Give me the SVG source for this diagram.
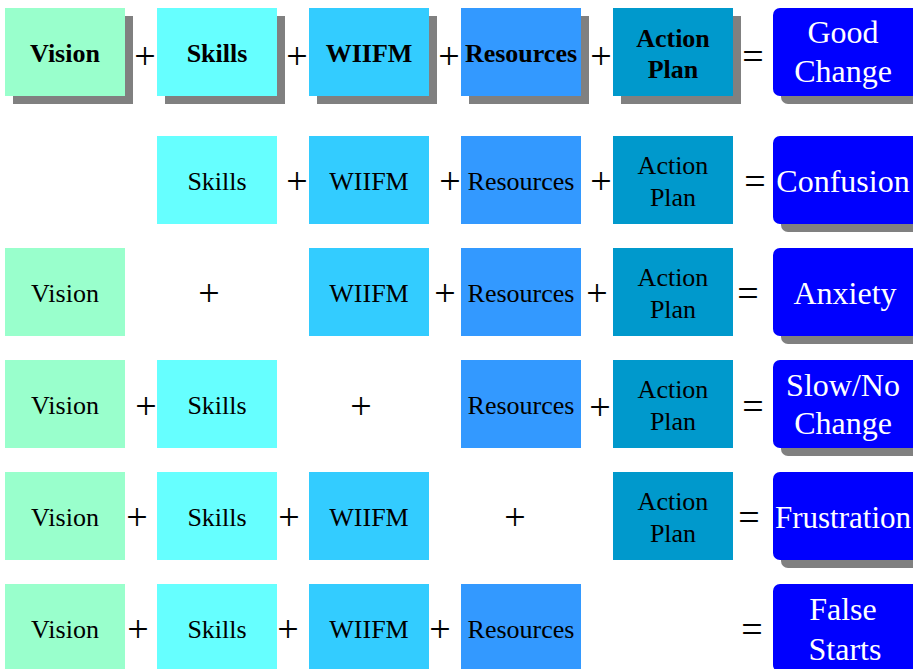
<svg xmlns="http://www.w3.org/2000/svg" width="913" height="669" viewBox="0 0 913 669">
  <style>
    .vision { fill: #99FFCC; }
    .skills { fill: #66FFFF; }
    .wiifm { fill: #33CCFF; }
    .res { fill: #3399FF; }
    .plan { fill: #0099CC; }
    .result { fill: #0000FF; }
    .shadow { fill: #808080; }
    text { font-family: "Liberation Serif", "Times New Roman", serif; text-anchor: middle; }
    .lbl { font-size: 26px; fill: #000000; }
    .bold { font-weight: bold; }
    .out { font-size: 32px; fill: #FFFFFF; }
    .op { font-size: 38px; fill: #000000; }
  </style>

  <rect x="0" y="0" width="913" height="669" fill="#FFFFFF"/>

  <!-- Row 1: all five ingredients -->
  <g id="row1">
    <g id="r1-vision">
      <rect class="shadow" x="13" y="16" width="120" height="88"/>
      <rect class="vision" x="5" y="8" width="120" height="88"/>
      <text class="lbl bold" x="65" y="62">Vision</text>
    </g>
    <g id="r1-skills">
      <rect class="shadow" x="165" y="16" width="120" height="88"/>
      <rect class="skills" x="157" y="8" width="120" height="88"/>
      <text class="lbl bold" x="217" y="62">Skills</text>
    </g>
    <g id="r1-wiifm">
      <rect class="shadow" x="317" y="16" width="120" height="88"/>
      <rect class="wiifm" x="309" y="8" width="120" height="88"/>
      <text class="lbl bold" x="369" y="62">WIIFM</text>
    </g>
    <g id="r1-resources">
      <rect class="shadow" x="469" y="16" width="120" height="88"/>
      <rect class="res" x="461" y="8" width="120" height="88"/>
      <text class="lbl bold" x="521" y="62">Resources</text>
    </g>
    <g id="r1-plan">
      <rect class="shadow" x="621" y="16" width="120" height="88"/>
      <rect class="plan" x="613" y="8" width="120" height="88"/>
      <text class="lbl bold" x="673" y="47">Action</text>
      <text class="lbl bold" x="673" y="78">Plan</text>
    </g>
    <g id="r1-result">
      <rect class="shadow" x="781" y="16" width="150" height="88" rx="7"/>
      <rect class="result" x="773" y="8" width="150" height="88" rx="7"/>
      <text class="out" x="843" y="43">Good</text>
      <text class="out" x="843" y="82">Change</text>
    </g>
  </g>

  <!-- Row 2: no vision -->
  <g id="row2">
    <g id="r2-skills">
      <rect class="skills" x="157" y="136" width="120" height="88"/>
      <text class="lbl" x="217" y="190">Skills</text>
    </g>
    <g id="r2-wiifm">
      <rect class="wiifm" x="309" y="136" width="120" height="88"/>
      <text class="lbl" x="369" y="190">WIIFM</text>
    </g>
    <g id="r2-resources">
      <rect class="res" x="461" y="136" width="120" height="88"/>
      <text class="lbl" x="521" y="190">Resources</text>
    </g>
    <g id="r2-plan">
      <rect class="plan" x="613" y="136" width="120" height="88"/>
      <text class="lbl" x="673" y="174">Action</text>
      <text class="lbl" x="673" y="206">Plan</text>
    </g>
    <g id="r2-result">
      <rect class="shadow" x="781" y="144" width="150" height="88" rx="7"/>
      <rect class="result" x="773" y="136" width="150" height="88" rx="7"/>
      <text class="out" x="843" y="192">Confusion</text>
    </g>
  </g>

  <!-- Row 3: no skills -->
  <g id="row3">
    <g id="r3-vision">
      <rect class="vision" x="5" y="248" width="120" height="88"/>
      <text class="lbl" x="65" y="302">Vision</text>
    </g>
    <g id="r3-wiifm">
      <rect class="wiifm" x="309" y="248" width="120" height="88"/>
      <text class="lbl" x="369" y="302">WIIFM</text>
    </g>
    <g id="r3-resources">
      <rect class="res" x="461" y="248" width="120" height="88"/>
      <text class="lbl" x="521" y="302">Resources</text>
    </g>
    <g id="r3-plan">
      <rect class="plan" x="613" y="248" width="120" height="88"/>
      <text class="lbl" x="673" y="286">Action</text>
      <text class="lbl" x="673" y="318">Plan</text>
    </g>
    <g id="r3-result">
      <rect class="shadow" x="781" y="256" width="150" height="88" rx="7"/>
      <rect class="result" x="773" y="248" width="150" height="88" rx="7"/>
      <text class="out" x="845" y="304">Anxiety</text>
    </g>
  </g>

  <!-- Row 4: no WIIFM -->
  <g id="row4">
    <g id="r4-vision">
      <rect class="vision" x="5" y="360" width="120" height="88"/>
      <text class="lbl" x="65" y="414">Vision</text>
    </g>
    <g id="r4-skills">
      <rect class="skills" x="157" y="360" width="120" height="88"/>
      <text class="lbl" x="217" y="414">Skills</text>
    </g>
    <g id="r4-resources">
      <rect class="res" x="461" y="360" width="120" height="88"/>
      <text class="lbl" x="521" y="414">Resources</text>
    </g>
    <g id="r4-plan">
      <rect class="plan" x="613" y="360" width="120" height="88"/>
      <text class="lbl" x="673" y="398">Action</text>
      <text class="lbl" x="673" y="430">Plan</text>
    </g>
    <g id="r4-result">
      <rect class="shadow" x="781" y="368" width="150" height="88" rx="7"/>
      <rect class="result" x="773" y="360" width="150" height="88" rx="7"/>
      <text class="out" x="843" y="396">Slow/No</text>
      <text class="out" x="843" y="434">Change</text>
    </g>
  </g>

  <!-- Row 5: no resources -->
  <g id="row5">
    <g id="r5-vision">
      <rect class="vision" x="5" y="472" width="120" height="88"/>
      <text class="lbl" x="65" y="526">Vision</text>
    </g>
    <g id="r5-skills">
      <rect class="skills" x="157" y="472" width="120" height="88"/>
      <text class="lbl" x="217" y="526">Skills</text>
    </g>
    <g id="r5-wiifm">
      <rect class="wiifm" x="309" y="472" width="120" height="88"/>
      <text class="lbl" x="369" y="526">WIIFM</text>
    </g>
    <g id="r5-plan">
      <rect class="plan" x="613" y="472" width="120" height="88"/>
      <text class="lbl" x="673" y="510">Action</text>
      <text class="lbl" x="673" y="542">Plan</text>
    </g>
    <g id="r5-result">
      <rect class="shadow" x="781" y="480" width="150" height="88" rx="7"/>
      <rect class="result" x="773" y="472" width="150" height="88" rx="7"/>
      <text class="out" x="843" y="528" textLength="136" lengthAdjust="spacingAndGlyphs">Frustration</text>
    </g>
  </g>

  <!-- Row 6: no action plan -->
  <g id="row6">
    <g id="r6-vision">
      <rect class="vision" x="5" y="584" width="120" height="88"/>
      <text class="lbl" x="65" y="638">Vision</text>
    </g>
    <g id="r6-skills">
      <rect class="skills" x="157" y="584" width="120" height="88"/>
      <text class="lbl" x="217" y="638">Skills</text>
    </g>
    <g id="r6-wiifm">
      <rect class="wiifm" x="309" y="584" width="120" height="88"/>
      <text class="lbl" x="369" y="638">WIIFM</text>
    </g>
    <g id="r6-resources">
      <rect class="res" x="461" y="584" width="120" height="88"/>
      <text class="lbl" x="521" y="638">Resources</text>
    </g>
    <g id="r6-result">
      <rect class="shadow" x="781" y="592" width="150" height="88" rx="7"/>
      <rect class="result" x="773" y="584" width="150" height="88" rx="7"/>
      <text class="out" x="843" y="620">False</text>
      <text class="out" x="845" y="660">Starts</text>
    </g>
  </g>

  <!-- Operators between the terms -->
  <g id="operators">
    <text class="op" x="145" y="69">+</text>
    <text class="op" x="297" y="69">+</text>
    <text class="op" x="449" y="69">+</text>
    <text class="op" x="601" y="69">+</text>
    <text class="op" x="753" y="69">=</text>

    <text class="op" x="297" y="194">+</text>
    <text class="op" x="450" y="194">+</text>
    <text class="op" x="601" y="194">+</text>
    <text class="op" x="755" y="194">=</text>

    <text class="op" x="209" y="306">+</text>
    <text class="op" x="445" y="306">+</text>
    <text class="op" x="597" y="306">+</text>
    <text class="op" x="748" y="306">=</text>

    <text class="op" x="146" y="419">+</text>
    <text class="op" x="361" y="419">+</text>
    <text class="op" x="600" y="420">+</text>
    <text class="op" x="753" y="419">=</text>

    <text class="op" x="137" y="530">+</text>
    <text class="op" x="289" y="530">+</text>
    <text class="op" x="515" y="530">+</text>
    <text class="op" x="749" y="530">=</text>

    <text class="op" x="138" y="642">+</text>
    <text class="op" x="288" y="642">+</text>
    <text class="op" x="440" y="642">+</text>
    <text class="op" x="752" y="642">=</text>
  </g>
</svg>
